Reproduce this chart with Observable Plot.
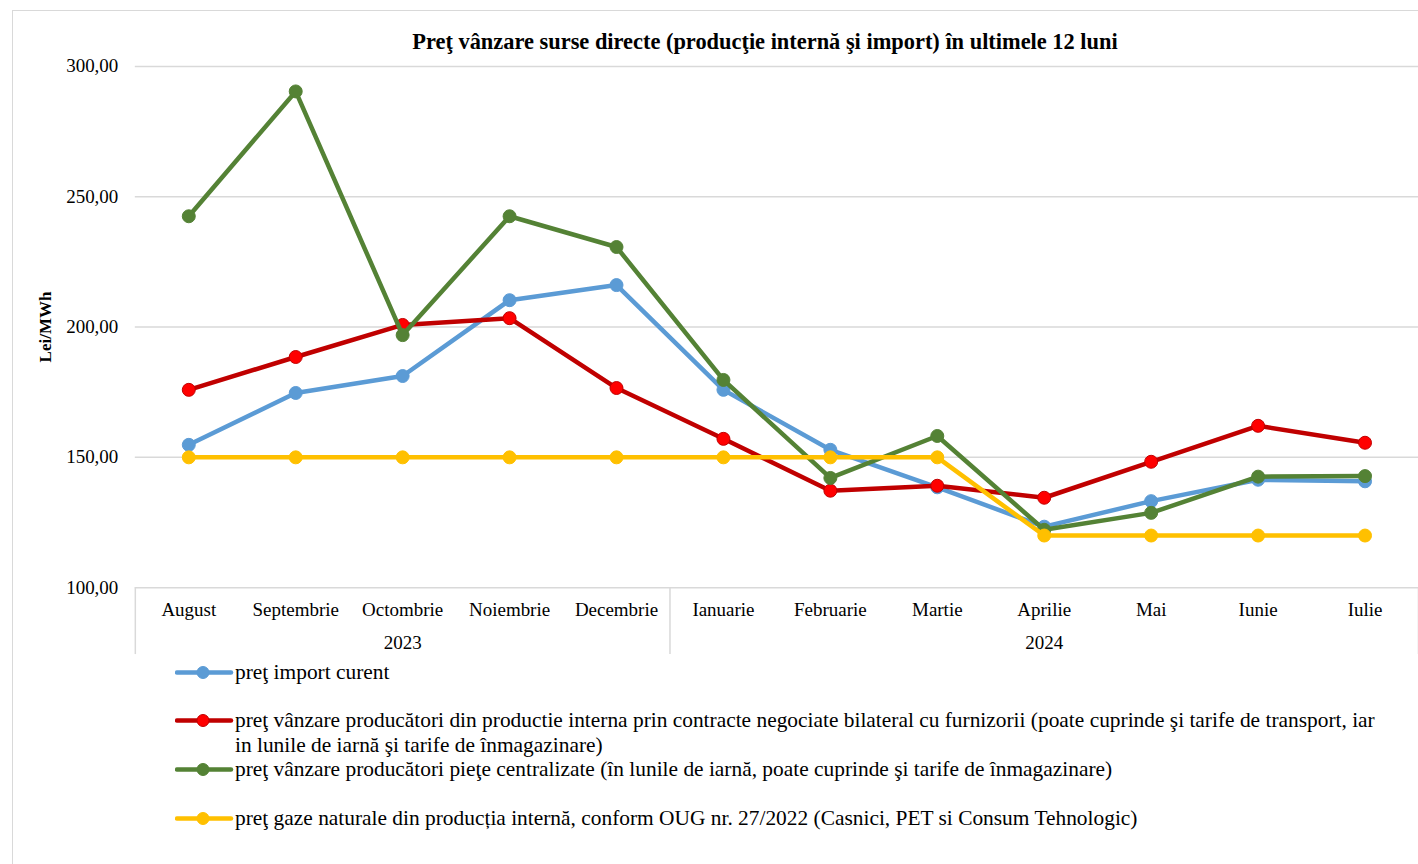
<!DOCTYPE html>
<html>
<head>
<meta charset="utf-8">
<script src="https://cdn.jsdelivr.net/npm/d3@7"></script>
<script src="https://cdn.jsdelivr.net/npm/@observablehq/plot@0.6"></script>
<style>
  html, body { margin: 0; padding: 0; background: #fff; }
  body { width: 1418px; height: 864px; position: relative; overflow: hidden; font-family: "Liberation Serif", "Times New Roman", serif; }
  #frame { position: absolute; left: 12px; top: 10px; width: 1500px; height: 900px; border: 1px solid #d9d9d9; box-sizing: border-box; }
  #title { position: absolute; top: 29px; left: 765px; transform: translateX(-50%); white-space: nowrap; font-weight: bold; font-size: 22.4px; line-height: 26px; color: #000; }
  #chart { position: absolute; left: 0; top: 0; }
  #legend { position: absolute; left: 175px; top: 0; width: 1240px; font-size: 21.4px; color: #000; }
  .item { position: absolute; left: 0; display: flex; align-items: flex-start; }
  .item svg { flex: none; }
  .item span { display: block; width: 1150px; line-height: 25px; }
</style>
</head>
<body>
<div id="frame"></div>
<div id="chart"></div>
<div id="title">Preţ vânzare surse directe (producţie internă şi import) în ultimele 12 luni</div>
<div id="legend"></div>
<script>
const months = ["August","Septembrie","Octombrie","Noiembrie","Decembrie","Ianuarie","Februarie","Martie","Aprilie","Mai","Iunie","Iulie"];
const years = [{label: "2023", center: "Octombrie"}, {label: "2024", center: "Aprilie"}];
const groupStarts = ["August", "Ianuarie"];
const yTicks = [100, 150, 200, 250, 300];

const seriesNames = [
  "preţ import curent",
  "preţ vânzare producători din productie interna prin contracte negociate bilateral cu furnizorii (poate cuprinde şi tarife de transport, iar in lunile de iarnă şi tarife de înmagazinare)",
  "preţ vânzare producători pieţe centralizate (în lunile de iarnă, poate cuprinde şi tarife de înmagazinare)",
  "preţ gaze naturale din producția internă, conform OUG nr. 27/2022 (Casnici, PET si Consum Tehnologic)"
];
const importCurent = [154.8, 174.7, 181.2, 210.3, 216.1, 175.9, 152.9, 138.5, 123.4, 133.2, 141.4, 140.8];
const bilateral    = [175.9, 188.5, 200.8, 203.4, 176.6, 157.1, 137.2, 139.1, 134.5, 148.3, 162.1, 155.6];
const centralizate = [242.5, 290.4, 196.9, 242.5, 230.7, 179.7, 142.1, 158.2, 122.2, 128.7, 142.6, 142.8];
const oug          = [150, 150, 150, 150, 150, 150, 150, 150, 120, 120, 120, 120];

const lineColors   = ["#5B9BD5", "#C00000", "#548235", "#FFC000"];
const markerFills  = ["#5B9BD5", "#FF0000", "#548235", "#FFC000"];

const allSeries = [importCurent, bilateral, centralizate, oug];
const data = allSeries.flatMap((vals, si) => vals.map((v, i) => ({month: months[i], value: v, s: si})));

const W = 1420, H = 660, ML = 135, MR = 0, MT = 66, MB = 72;
const bw = (W - ML - MR) / months.length;
const fmt = v => d3.format(".2f")(v).replace(".", ",");

const marks = [
  Plot.ruleY(yTicks, {y: d => d, stroke: "#d9d9d9", strokeWidth: 1.5}),
  Plot.axisY({ticks: yTicks, tickFormat: fmt, tickSize: 0, tickPadding: 17, fontSize: 19, label: null}),
  Plot.ruleX(groupStarts, {x: d => d, dx: -bw / 2, stroke: "#d9d9d9", strokeWidth: 1.5, insetTop: 522, insetBottom: -67}),
  Plot.ruleX(["Iulie"], {x: d => d, dx: bw / 2, stroke: "#d9d9d9", strokeWidth: 1.5, insetTop: 522, insetBottom: -67}),
  Plot.text(months, {x: d => d, text: d => d, frameAnchor: "bottom", dy: 22, lineAnchor: "middle", fontSize: 19, fill: "#000"}),
  Plot.text(years, {x: "center", text: "label", frameAnchor: "bottom", dy: 55, lineAnchor: "middle", fontSize: 19, fill: "#000"}),
  Plot.text(["Lei/MWh"], {text: d => d, frameAnchor: "left", textAnchor: "middle", dx: -90, rotate: -90, fontSize: 17, fontWeight: "bold", fill: "#000"})
];
allSeries.forEach((vals, si) => {
  const rows = data.filter(d => d.s === si);
  marks.push(Plot.line(rows, {x: "month", y: "value", stroke: lineColors[si], strokeWidth: 4.5, strokeLinejoin: "round", strokeLinecap: "round"}));
  marks.push(Plot.dot(rows, {x: "month", y: "value", r: 6.5, fill: markerFills[si], stroke: lineColors[si], strokeWidth: 1}));
});

const chart = Plot.plot({
  width: W, height: H,
  marginLeft: ML, marginRight: MR, marginTop: MT, marginBottom: MB,
  style: {fontFamily: "'Liberation Serif', 'Times New Roman', serif", background: "transparent", overflow: "visible"},
  x: {type: "band", domain: months, padding: 0, round: false, axis: null},
  y: {domain: [100, 300], axis: null},
  marks
});
document.getElementById("chart").appendChild(chart);

// Legend
const legendTops = [660, 708, 757, 806];
const legend = document.getElementById("legend");
seriesNames.forEach((name, i) => {
  const item = document.createElement("div");
  item.className = "item";
  item.style.top = legendTops[i] + "px";
  const sw = d3.create("svg").attr("width", 60).attr("height", 25);
  sw.append("line").attr("x1", 2).attr("x2", 56).attr("y1", 12.5).attr("y2", 12.5)
    .attr("stroke", lineColors[i]).attr("stroke-width", 4.5).attr("stroke-linecap", "round");
  sw.append("circle").attr("cx", 28).attr("cy", 12.5).attr("r", 6)
    .attr("fill", markerFills[i]).attr("stroke", lineColors[i]).attr("stroke-width", 1);
  item.appendChild(sw.node());
  const t = document.createElement("span");
  t.textContent = name;
  item.appendChild(t);
  legend.appendChild(item);
});
</script>
</body>
</html>
